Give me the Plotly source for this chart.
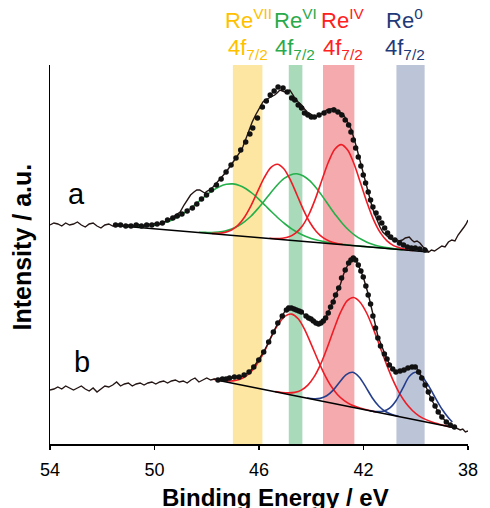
import plotly.graph_objects as go

# ---------------- data: binding energy (eV) / intensity (a.u.) ----------------
tick_vals = [54, 50, 46, 42, 38]

band_names = ["Re<sup>VII</sup>", "Re<sup>VI</sup>", "Re<sup>IV</sup>", "Re<sup>0</sup>"]
band_sub = ["4f<sub>7/2</sub>"] * 4
band_lo = [45.87, 44.34, 42.35, 39.66]
band_hi = [47.00, 44.86, 43.55, 40.74]
band_label_ev = [46.41, 44.62, 42.80, 40.42]

# spectrum a : raw trace
a_raw_ev = [54.00, 53.85, 53.70, 53.55, 53.40, 53.25, 53.10, 52.95, 52.80, 52.65, 52.50, 52.35,
            52.20, 52.05, 51.90, 51.75, 51.60, 51.45, 51.30, 51.15, 51.00, 50.85, 50.70, 50.55,
            50.40, 50.25, 50.10, 49.95, 49.80, 49.65, 49.50, 49.35, 49.20, 49.02, 48.87, 48.75,
            48.62, 48.49, 48.38, 48.27, 48.17, 48.08, 47.98, 47.89, 47.76, 47.63, 47.45, 47.26,
            47.07, 46.88, 46.75, 46.62, 46.50, 46.39, 46.26, 46.13, 46.03, 45.94, 45.85, 45.76,
            45.62, 45.49, 45.40, 45.31, 45.20, 45.10, 45.01, 44.92, 44.82, 44.72, 44.63, 44.50,
            44.37, 44.26, 44.15, 44.02, 43.88, 43.75, 43.62, 43.50, 43.40, 43.27, 43.13, 43.05,
            43.02, 42.93, 42.83, 42.74, 42.65, 42.55, 42.46, 42.36, 42.27, 42.20, 42.12, 42.03,
            41.94, 41.85, 41.75, 41.66, 41.56, 41.46, 41.37, 41.26, 41.15, 41.02, 40.89, 40.77,
            40.64, 40.51, 40.40, 40.30, 40.25, 40.15, 40.06, 39.95, 39.84, 39.72, 39.60, 39.50,
            39.40, 39.28, 39.13, 39.00, 38.88, 38.75, 38.62, 38.50, 38.38, 38.25, 38.15, 38.07, 38.00]
a_raw_int = [219, 221, 220, 218, 221, 219, 220, 222, 219, 217, 220, 221,
             218, 216, 219, 220, 218, 219, 220, 218, 219, 218, 220, 219,
             218, 220, 219, 221, 220, 222, 223, 226, 229, 232, 239, 244,
             249, 252, 254, 254, 252, 251, 253, 254, 257, 261, 266, 272,
             279, 286, 291, 297, 305, 314, 322, 329, 334, 339, 342, 344,
             346, 347, 349, 351, 354, 353, 352, 353, 354, 350, 346, 342,
             339, 335, 332, 330, 327, 328, 330, 332, 334, 335, 336, 333,
             331, 332, 331, 328, 324, 319, 314, 306, 297, 290, 282, 272,
             262, 253, 244, 236, 229, 222, 217, 212, 209, 206, 204, 205,
             203, 204, 206, 207, 207, 204, 202, 203, 201, 197, 195, 192,
             194, 193, 196, 198, 197, 202, 204, 203, 209, 213, 217, 220, 224]

# spectrum a : data points
a_dots_ev = [51.49, 51.30, 51.10, 50.90, 50.70, 50.50, 50.30, 50.10, 49.90, 49.70, 49.50, 49.30,
             49.13, 48.95, 48.75, 48.55, 48.38, 48.20, 48.01, 47.82, 47.63, 47.45, 47.26, 47.07,
             46.88, 46.70, 46.51, 46.35, 46.24, 46.06, 45.87, 45.72, 45.57, 45.42, 45.27, 45.08,
             44.92, 44.75, 44.63, 44.50, 44.37, 44.26, 44.13, 44.00, 43.88, 43.70, 43.51, 43.32,
             43.13, 42.98, 42.83, 42.70, 42.57, 42.48, 42.39, 42.30, 42.20, 42.10, 42.01, 41.92,
             41.82, 41.73, 41.64, 41.52, 41.41, 41.30, 41.19, 41.08, 40.96, 40.80, 40.62, 40.47,
             40.32, 40.17, 40.02, 39.85, 39.65]
a_dots_int = [219, 219, 218, 218, 219, 218, 219, 219, 220, 221, 224, 226,
              228, 230, 233, 236, 240, 245, 249, 254, 259, 265, 272, 279,
              286, 294, 302, 310, 316, 326, 337, 343, 349, 353, 357, 356,
              352, 346, 344, 339, 336, 331, 329, 327, 327, 329, 331, 333,
              334, 332, 329, 324, 319, 312, 304, 296, 287, 278, 269, 261,
              252, 244, 237, 231, 226, 221, 216, 211, 207, 204, 201, 199,
              197, 196, 196, 195, 194]

a_bg_ev = [51.5, 39.5]
a_bg_int = [218.5, 192.0]

a_g1_ev = [51.0, 50.75, 50.5, 50.25, 50.0, 49.75, 49.5, 49.25, 49.0, 48.75, 48.5, 48.25, 48.0,
           47.75, 47.5, 47.25, 47.0, 46.75, 46.5, 46.25, 46.0, 45.75, 45.5, 45.25, 45.0, 44.75,
           44.5, 44.25, 44.0, 43.75, 43.5, 43.25, 43.0, 42.5, 42.0, 41.5, 41.0, 40.5]
a_g1_int = [217.5, 217.7, 217.7, 218.1, 218.8, 220.2, 222.2, 225.0, 228.8, 233.2, 238.4, 243.7, 249.1,
            253.8, 257.5, 259.7, 260.1, 258.6, 255.3, 250.5, 244.7, 238.2, 231.7, 225.5, 220.0, 215.1,
            211.2, 208.0, 205.5, 203.7, 202.2, 201.1, 200.2, 198.7, 197.6, 196.5, 195.4, 194.3]

a_r1_ev = [47.8, 47.55, 47.3, 47.05, 46.8, 46.55, 46.3, 46.05, 45.8, 45.55, 45.3, 45.05, 44.8,
           44.55, 44.3, 44.05, 43.8, 43.55, 43.3, 43.05, 42.8]
a_r1_int = [210.6, 210.7, 211.6, 214.0, 218.8, 227.0, 238.6, 252.6, 266.3, 276.4, 279.8, 275.3, 264.1,
            249.3, 234.2, 221.5, 212.2, 206.3, 202.8, 200.7, 199.6]

a_g2_ev = [48.3, 48.05, 47.8, 47.55, 47.3, 47.05, 46.8, 46.55, 46.3, 46.05, 45.8, 45.55, 45.3, 45.05,
           44.8, 44.55, 44.3, 44.05, 43.8, 43.55, 43.3, 43.05, 42.8, 42.55, 42.3, 42.05, 41.8, 41.55,
           41.3, 41.05, 40.8, 40.55]
a_g2_int = [211.7, 211.6, 211.5, 212.0, 213.0, 215.0, 218.0, 222.4, 228.0, 235.1, 243.0, 251.3, 259.0,
            265.3, 269.1, 270.2, 268.0, 263.1, 255.7, 246.9, 237.5, 228.4, 220.3, 213.5, 208.1, 204.2,
            200.9, 198.7, 197.2, 196.1, 195.2, 194.5]

a_r2_ev = [45.6, 45.35, 45.1, 44.85, 44.6, 44.35, 44.1, 43.85, 43.6, 43.35, 43.1, 42.85, 42.6, 42.35,
           42.1, 41.85, 41.6, 41.35, 41.1, 40.85, 40.6, 40.35, 40.1]
a_r2_int = [205.7, 205.4, 205.8, 207.2, 210.9, 217.7, 229.0, 244.6, 263.3, 281.5, 294.8, 299.4, 293.7,
            279.3, 259.9, 240.2, 223.4, 211.1, 203.1, 198.4, 196.0, 194.4, 193.5]

# spectrum b : raw trace
b_raw_ev = [54.00, 53.85, 53.70, 53.55, 53.40, 53.25, 53.10, 52.95, 52.80, 52.65, 52.50, 52.35,
            52.20, 52.05, 51.90, 51.75, 51.60, 51.45, 51.30, 51.15, 51.00, 50.85, 50.70, 50.55,
            50.40, 50.25, 50.10, 49.95, 49.80, 49.65, 49.50, 49.35, 49.20, 49.05, 48.90, 48.75,
            48.60, 48.45, 48.30, 48.15, 48.00, 47.85, 47.70, 47.55, 47.40, 47.25, 47.13, 46.94,
            46.76, 46.57, 46.38, 46.20, 46.01, 45.82, 45.63, 45.45, 45.28, 45.11, 44.98, 44.90,
            44.82, 44.76, 44.57, 44.38, 44.20, 44.01, 43.82, 43.70, 43.63, 43.45, 43.26, 43.07,
            42.88, 42.76, 42.57, 42.45, 42.39, 42.30, 42.20, 42.01, 41.82, 41.64, 41.45, 41.30,
            41.20, 41.01, 40.88, 40.76, 40.60, 40.45, 40.30, 40.14, 40.02, 39.89, 39.75, 39.64,
            39.52, 39.39, 39.26, 39.14, 39.00, 38.83, 38.68, 38.52, 38.40, 38.30, 38.20, 38.10, 38.00]
b_raw_int = [54, 55, 57, 55, 58, 56, 54, 56, 58, 55, 53, 56,
             52, 55, 58, 57, 59, 62, 58, 60, 61, 58, 60, 61,
             59, 61, 62, 60, 62, 63, 61, 63, 64, 62, 63, 61,
             64, 66, 62, 64, 66, 64, 65, 64, 65, 64, 66, 67,
             66, 69, 72, 77, 84, 92, 102, 112, 121, 128, 134, 138,
             134, 136, 134, 132, 128, 125, 121, 119, 121, 126, 137, 148,
             160, 170, 181, 186, 187, 184, 179, 167, 150, 130, 108, 98,
             91, 80, 75, 72, 72, 74, 75, 77, 78, 73, 66, 59,
             52, 44, 38, 32, 27, 22, 19, 17, 16, 14, 15, 12, 13]

# spectrum b : data points
b_dots_ev = [47.57, 47.40, 47.26, 47.13, 46.94, 46.76, 46.57, 46.38, 46.20, 46.01, 45.82, 45.63,
             45.45, 45.28, 45.11, 44.95, 44.86, 44.76, 44.66, 44.57, 44.47, 44.38, 44.20, 44.10,
             44.01, 43.92, 43.82, 43.72, 43.63, 43.54, 43.45, 43.35, 43.26, 43.16, 43.07, 42.95,
             42.84, 42.70, 42.57, 42.48, 42.39, 42.30, 42.20, 42.10, 42.01, 41.91, 41.82, 41.73,
             41.64, 41.54, 41.45, 41.35, 41.20, 41.10, 41.01, 40.88, 40.76, 40.60, 40.45, 40.30,
             40.14, 40.02, 39.89, 39.77, 39.64, 39.52, 39.39, 39.26, 39.14, 39.00, 38.83, 38.68, 38.52]
b_dots_int = [64, 65, 65, 66, 67, 67, 69, 72, 77, 84, 92, 102,
              112, 121, 128, 134, 136, 136, 135, 134, 133, 132, 128, 126,
              125, 123, 121, 120, 121, 123, 126, 131, 137, 142, 149, 156,
              166, 174, 181, 184, 186, 184, 179, 173, 167, 158, 149, 140,
              128, 116, 106, 98, 90, 85, 79, 75, 72, 73, 74, 76,
              77, 77, 72, 66, 59, 52, 45, 38, 32, 27, 22, 19, 17]

b_bg_ev = [47.63, 38.56]
b_bg_int = [64.0, 16.5]

b_r1_ev = [47.75, 47.5, 47.25, 47.0, 46.75, 46.5, 46.25, 46.0, 45.75, 45.5, 45.25, 45.0, 44.75,
           44.5, 44.25, 44.0, 43.75, 43.5, 43.25, 43.0, 42.75, 42.5, 42.25, 42.0, 41.75, 41.5]
b_r1_int = [64.9, 63.7, 63.1, 63.1, 64.5, 67.8, 73.9, 83.0, 94.8, 108.9, 120.1, 127.8, 129.9,
            125.2, 114.4, 99.6, 84.3, 69.9, 58.2, 49.5, 43.6, 39.5, 36.9, 34.9, 33.4, 32.0]

b_r2_ev = [45.38, 45.13, 44.88, 44.63, 44.38, 44.13, 43.88, 43.63, 43.38, 43.13, 42.88, 42.63, 42.38,
           42.13, 41.88, 41.63, 41.38, 41.13, 40.88, 40.63, 40.38, 40.13, 39.88, 39.63, 39.38, 39.13,
           38.88, 38.6]
b_r2_int = [52.4, 51.5, 51.1, 51.6, 53.9, 58.9, 67.6, 80.4, 96.9, 115.0, 131.6, 143.2, 146.5,
            141.8, 131.0, 115.6, 98.0, 80.4, 64.4, 51.1, 40.9, 33.5, 28.2, 24.6, 22.0, 20.1,
            18.4, 16.8]

b_b1_ev = [44.16, 43.91, 43.66, 43.41, 43.16, 42.91, 42.66, 42.41, 42.16, 41.91, 41.66, 41.41,
           41.16, 40.91, 40.66]
b_b1_int = [46.0, 45.2, 45.6, 48.2, 53.9, 62.1, 69.4, 71.7, 66.8, 56.9, 46.0, 37.7,
            32.5, 29.5, 27.7]

b_b2_ev = [41.75, 41.5, 41.25, 41.0, 40.75, 40.5, 40.25, 40.0, 39.75, 39.5, 39.25, 39.0, 38.75, 38.6]
b_b2_int = [33.3, 32.4, 32.7, 35.8, 43.5, 55.6, 67.5, 71.7, 67.3, 57.8, 46.1, 35.0, 26.3, 22.0]

# ---------------- styling ----------------
TEXT_COLORS = ["#FFC000", "#2AAA4A", "#FF2020", "#1F3A78"]
BAND_COLORS = ["#FCE6A2", "#A9DABA", "#F5AAAD", "#BCC4D8"]
RED = "#EE1C25"
GREEN = "#25B04B"
BLUE = "#263F8C"
RAW = "#241614"
FONT = "Liberation Sans, Arial, sans-serif"

fig = go.Figure()


def comp(x, y, color):
    fig.add_trace(go.Scatter(x=x, y=y, mode="lines",
                             line=dict(color=color, width=1.6, shape="spline", smoothing=0.8),
                             hoverinfo="skip"))


# components a
comp(a_g1_ev, a_g1_int, GREEN)
comp(a_g2_ev, a_g2_int, GREEN)
comp(a_r1_ev, a_r1_int, RED)
comp(a_r2_ev, a_r2_int, RED)
# components b
comp(b_r1_ev, b_r1_int, RED)
comp(b_r2_ev, b_r2_int, RED)
comp(b_b1_ev, b_b1_int, BLUE)
comp(b_b2_ev, b_b2_int, BLUE)

# backgrounds
for xs, ys in [(a_bg_ev, a_bg_int), (b_bg_ev, b_bg_int)]:
    fig.add_trace(go.Scatter(x=xs, y=ys, mode="lines", line=dict(color="black", width=1.6)))

# raw traces
for xs, ys in [(a_raw_ev, a_raw_int), (b_raw_ev, b_raw_int)]:
    fig.add_trace(go.Scatter(x=xs, y=ys, mode="lines", line=dict(color=RAW, width=1.4)))

# data points
for xs, ys in [(a_dots_ev, a_dots_int), (b_dots_ev, b_dots_int)]:
    fig.add_trace(go.Scatter(x=xs, y=ys, mode="markers",
                             marker=dict(color="#111111", size=5.5, line=dict(width=0))))

# coloured bands
for lo, hi, col in zip(band_lo, band_hi, BAND_COLORS):
    fig.add_shape(type="rect", xref="x", yref="paper", x0=hi, x1=lo, y0=0, y1=1,
                  fillcolor=col, line=dict(width=0), layer="below")

annotations = []
for name, sub, xev, col in zip(band_names, band_sub, band_label_ev, TEXT_COLORS):
    annotations.append(dict(x=xev, y=1.0818, xref="x", yref="paper", text=name, showarrow=False,
                            borderpad=0,
                            font=dict(size=22, color=col, family=FONT), xanchor="center", yanchor="bottom"))
    annotations.append(dict(x=xev, y=1.0818, xref="x", yref="paper", text=sub, showarrow=False,
                            borderpad=0,
                            font=dict(size=22, color=col, family=FONT), xanchor="center", yanchor="top"))

annotations.append(dict(x=52.97, y=250, xref="x", yref="y", text="a", showarrow=False,
                        font=dict(size=29, color="black", family=FONT)))
annotations.append(dict(x=52.78, y=82, xref="x", yref="y", text="b", showarrow=False,
                        font=dict(size=29, color="black", family=FONT)))
annotations.append(dict(x=0.539, y=-0.14, xref="paper", yref="paper", text="<b>Binding Energy / eV</b>",
                        showarrow=False, xanchor="center", yanchor="middle",
                        font=dict(size=24, color="black", family=FONT)))
annotations.append(dict(x=-0.068, y=0.52, xref="paper", yref="paper", text="<b>Intensity / a.u.</b>",
                        showarrow=False, textangle=-90, xanchor="center", yanchor="middle",
                        font=dict(size=25, color="black", family=FONT)))

fig.update_layout(
    width=490, height=508,
    margin=dict(l=50, r=13, t=65, b=64),
    plot_bgcolor="white", paper_bgcolor="white",
    showlegend=False,
    hovermode=False,
    font=dict(family=FONT, color="black"),
    annotations=annotations,
    xaxis=dict(range=[54, 38], tickvals=tick_vals, ticks="outside", ticklen=4, tickwidth=1.5,
               tickcolor="black", showline=True, linecolor="black", linewidth=1.5,
               ticklabelstandoff=5,
               showgrid=False, zeroline=False, tickfont=dict(size=18, family=FONT)),
    yaxis=dict(range=[0, 379], showline=True, linecolor="black", linewidth=1.5,
               showticklabels=False, ticks="", showgrid=False, zeroline=False),
)

fig.write_html("out.html", config={"displayModeBar": False, "staticPlot": True},
               post_script="document.body.style.margin='0';document.body.style.overflow='hidden';")
